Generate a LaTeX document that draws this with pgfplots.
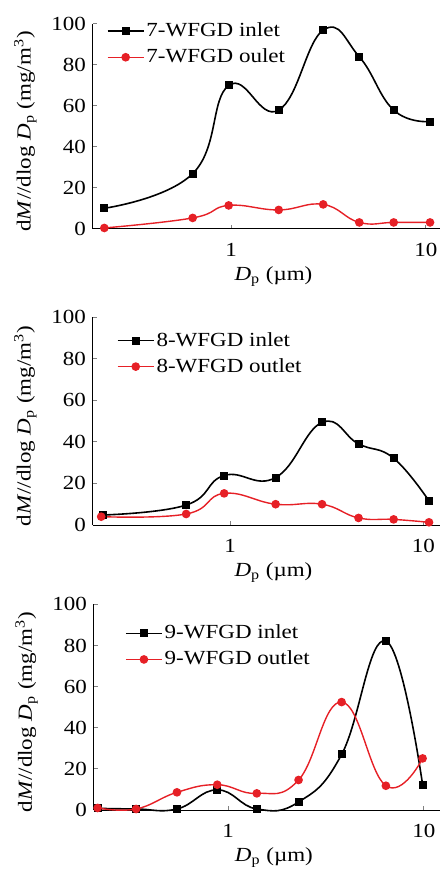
\documentclass[border=0pt]{standalone}
\usepackage{fontspec}
\setmainfont{Liberation Serif}[FakeStretch=1.15]
\usepackage{pgfplots}
\pgfplotsset{compat=1.18}
\definecolor{wred}{RGB}{230,32,38}

\pgfplotsset{
  psd/.style={
    scale only axis,
    ymin=0, ymax=100,
    ytick={0,20,...,100},
    xtick={1,10}, xticklabels={1,10},
    xminorticks=false,
    axis x line*=bottom, axis y line*=left,
    tick align=inside,
    major tick length=2pt,
    axis line style={line width=0.5pt},
    tick style={line width=0.5pt},
    clip=false,
    /pgf/number format/assume math mode=true,
    tick label style={font=\fontsize{10}{12}\selectfont},
    xticklabel style={yshift=-3.5pt},
    label style={font=\fontsize{10}{12}\selectfont},
    xlabel={\textit{D}\textsubscript{p} (µm)},
    ylabel={d\textit{M}//dlog \textit{D}\textsubscript{p} (mg/m\textsuperscript{3})},
    xlabel style={at={(axis description cs:0.52,0)}, anchor=center, yshift=-24pt},
    ylabel style={at={(axis description cs:-0.195,0.476)}, anchor=center},
    legend cell align=left,
    legend style={draw=none, fill=none, inner sep=0pt, outer sep=0pt,
      row sep=0pt, column sep=1pt, anchor=north west,
      nodes={minimum height=13pt, inner sep=0pt},
      font=\fontsize{10}{12}\selectfont},
    legend image code/.code={
      \draw[mark repeat=2, mark phase=2] plot coordinates {(0pt,0pt) (9pt,0pt) (18pt,0pt)};},
  },
  inl/.style={black, line width=0.8pt, mark=square*, mark size=1.6pt, smooth, tension=0.75},
  outl/.style={wred, line width=0.7pt, mark=*, mark size=1.8pt, smooth, tension=0.75},
}

\begin{document}
\begin{tikzpicture}
\path[use as bounding box] (0,0) rectangle (220pt,-435.5pt);

% panel 7
\begin{axis}[xmode=log, psd, at={(46.5pt,-114.5pt)}, anchor=south west,
  width=173.5pt, height=102.5pt, xmin=0.196, xmax=11.8,
  legend style={at={(0.040,1.028)}}]
\addplot[inl] coordinates {
  (0.224,10.1) (0.636,27) (0.973,70) (1.757,58) (2.97,97) (4.55,84) (6.83,58) (10.49,52.4)};
\addlegendentry{7-WFGD inlet}
\addplot[outl] coordinates {
  (0.224,0.5) (0.636,5.4) (0.973,11.5) (1.757,9.3) (2.97,12) (4.55,3.2) (6.83,3.2) (10.49,3.2)};
\addlegendentry{7-WFGD oulet}
\end{axis}

% panel 8
\begin{axis}[xmode=log, psd, at={(46.5pt,-262.5pt)}, anchor=south west,
  width=173.5pt, height=104pt, xmin=0.195, xmax=12.2,
  legend style={at={(0.069,0.949)}}]
\addplot[inl] coordinates {
  (0.219,4.8) (0.592,9.6) (0.931,23.8) (1.72,22.8) (2.99,49.3) (4.62,39) (7.02,32.1) (10.7,11.6)};
\addlegendentry{8-WFGD inlet}
\addplot[outl] coordinates {
  (0.215,4.0) (0.592,5.3) (0.931,15.2) (1.72,10) (2.99,10) (4.62,3.4) (7.02,2.7) (10.7,1.3)};
\addlegendentry{8-WFGD outlet}
\end{axis}

% panel 9
\begin{axis}[xmode=log, psd, at={(47pt,-405pt)}, anchor=south west,
  width=173pt, height=102.8pt, xmin=0.206, xmax=12.1,
  legend style={at={(0.090,0.922)}}]
\addplot[inl] coordinates {
  (0.215,0.8) (0.338,0.5) (0.547,0.5) (0.879,9.8) (1.40,0.5) (2.29,3.9) (3.80,27) (6.40,82.2) (9.86,12.3)};
\addlegendentry{9-WFGD inlet}
\addplot[outl] coordinates {
  (0.215,1) (0.338,0.5) (0.547,8.6) (0.879,12.3) (1.40,8.1) (2.29,14.6) (3.80,52.5) (6.40,11.8) (9.86,25.1)};
\addlegendentry{9-WFGD outlet}
\end{axis}
\end{tikzpicture}
\end{document}
